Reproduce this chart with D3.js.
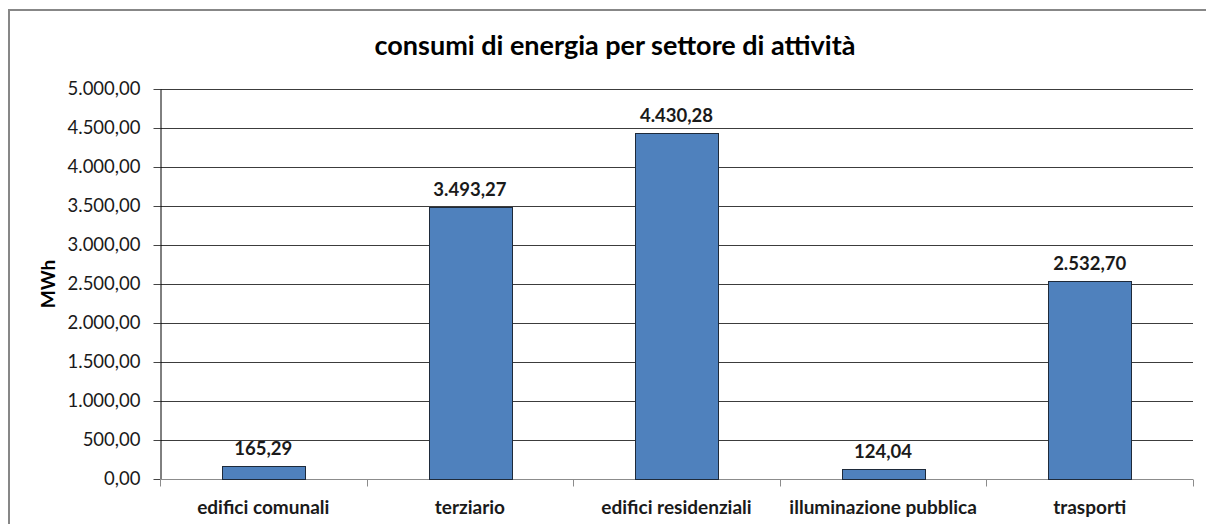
<!DOCTYPE html>
<html><head><meta charset="utf-8">
<script src="https://cdn.jsdelivr.net/npm/d3@7"></script>
<style>body{margin:0;background:#fff;}svg{display:block;font-family:Lato,"Open Sans",sans-serif;}</style>
</head><body>
<script>
const categories = ["edifici comunali","terziario","edifici residenziali","illuminazione pubblica","trasporti"];
const values = [165.29, 3493.27, 4430.28, 124.04, 2532.70];
const yTicks = [0,500,1000,1500,2000,2500,3000,3500,4000,4500,5000];
const title = "consumi di energia per settore di attività";
const yLabel = "MWh";

const W = 1206, H = 524;
const m = {left:160, right:13, top:89, bottom:45};
const svg = d3.select("body").append("svg").attr("width",W).attr("height",H);

svg.append("rect").attr("x",9).attr("y",10).attr("width",1210).attr("height",530)
  .attr("fill","#fff").attr("stroke","#878787").attr("stroke-width",2);

const x = d3.scaleBand().domain(categories).range([m.left, W-m.right]).paddingInner(0.6).paddingOuter(0.3);
const y = d3.scaleLinear().domain([0,5000]).range([H-m.bottom, m.top]);

const fmt = d3.formatLocale({decimal:",", thousands:".", grouping:[3], currency:["","€"]}).format(",.2f");

// gridlines
svg.append("g").selectAll("line").data(yTicks.filter(d=>d>0)).join("line")
  .attr("x1",m.left).attr("x2",W-m.right)
  .attr("y1",d=>Math.round(y(d))+0.5).attr("y2",d=>Math.round(y(d))+0.5)
  .attr("stroke","#3c3c3c").attr("stroke-width",1);

// y axis
const ya = svg.append("g").attr("transform",`translate(${m.left+0.5},0)`)
  .call(d3.axisLeft(y).tickValues(yTicks).tickFormat(fmt).tickSize(7).tickSizeOuter(0));
ya.select(".domain").attr("stroke","#000");
ya.selectAll(".tick line").attr("stroke","#444");
ya.selectAll(".tick text").attr("font-size",18.5).attr("fill","#1a1a1a").attr("x",-20)
  .attr("font-family","Lato,sans-serif");

// x axis
const xa = svg.append("g").attr("transform",`translate(0,${Math.round(y(0))+0.5})`);
xa.append("line").attr("x1",m.left).attr("x2",W-m.right).attr("stroke","#8c8c8c");
const edges = d3.range(categories.length+1).map(i=>m.left + i*(W-m.left-m.right)/categories.length);
xa.selectAll(".t").data(edges).join("line").attr("class","t")
  .attr("x1",d=>Math.round(d)+0.5).attr("x2",d=>Math.round(d)+0.5).attr("y1",0).attr("y2",7).attr("stroke","#8c8c8c");
xa.selectAll("text").data(categories).join("text")
  .attr("x",d=>x(d)+x.bandwidth()/2).attr("y",34).attr("text-anchor","middle")
  .attr("font-size",19).attr("font-weight","bold").attr("fill","#1a1a1a").text(d=>d);

// bars
svg.append("g").selectAll("rect").data(categories).join("rect")
  .attr("x",d=>Math.round(x(d))+0.5).attr("width",Math.round(x.bandwidth()))
  .attr("y",(d,i)=>Math.round(y(values[i]))+0.5).attr("height",(d,i)=>Math.round(y(0))-Math.round(y(values[i])))
  .attr("fill","#4f81bd").attr("stroke","#1e2a3a").attr("stroke-width",1);

// value labels
svg.append("g").selectAll("text").data(categories).join("text")
  .attr("x",d=>x(d)+x.bandwidth()/2).attr("y",(d,i)=>y(values[i])-11)
  .attr("text-anchor","middle").attr("font-size",18.5).attr("font-weight","bold").attr("fill","#1a1a1a")
  .text((d,i)=>fmt(values[i]));

// title
svg.append("text").attr("x",615).attr("y",55).attr("text-anchor","middle")
  .attr("font-size",27).attr("font-weight","bold").attr("fill","#000").text(title);

// y label
svg.append("text").attr("transform",`translate(55,${(m.top+H-m.bottom)/2}) rotate(-90)`)
  .attr("text-anchor","middle").attr("font-size",19).attr("font-weight","bold").attr("fill","#000").text(yLabel);
</script>
</body></html>
